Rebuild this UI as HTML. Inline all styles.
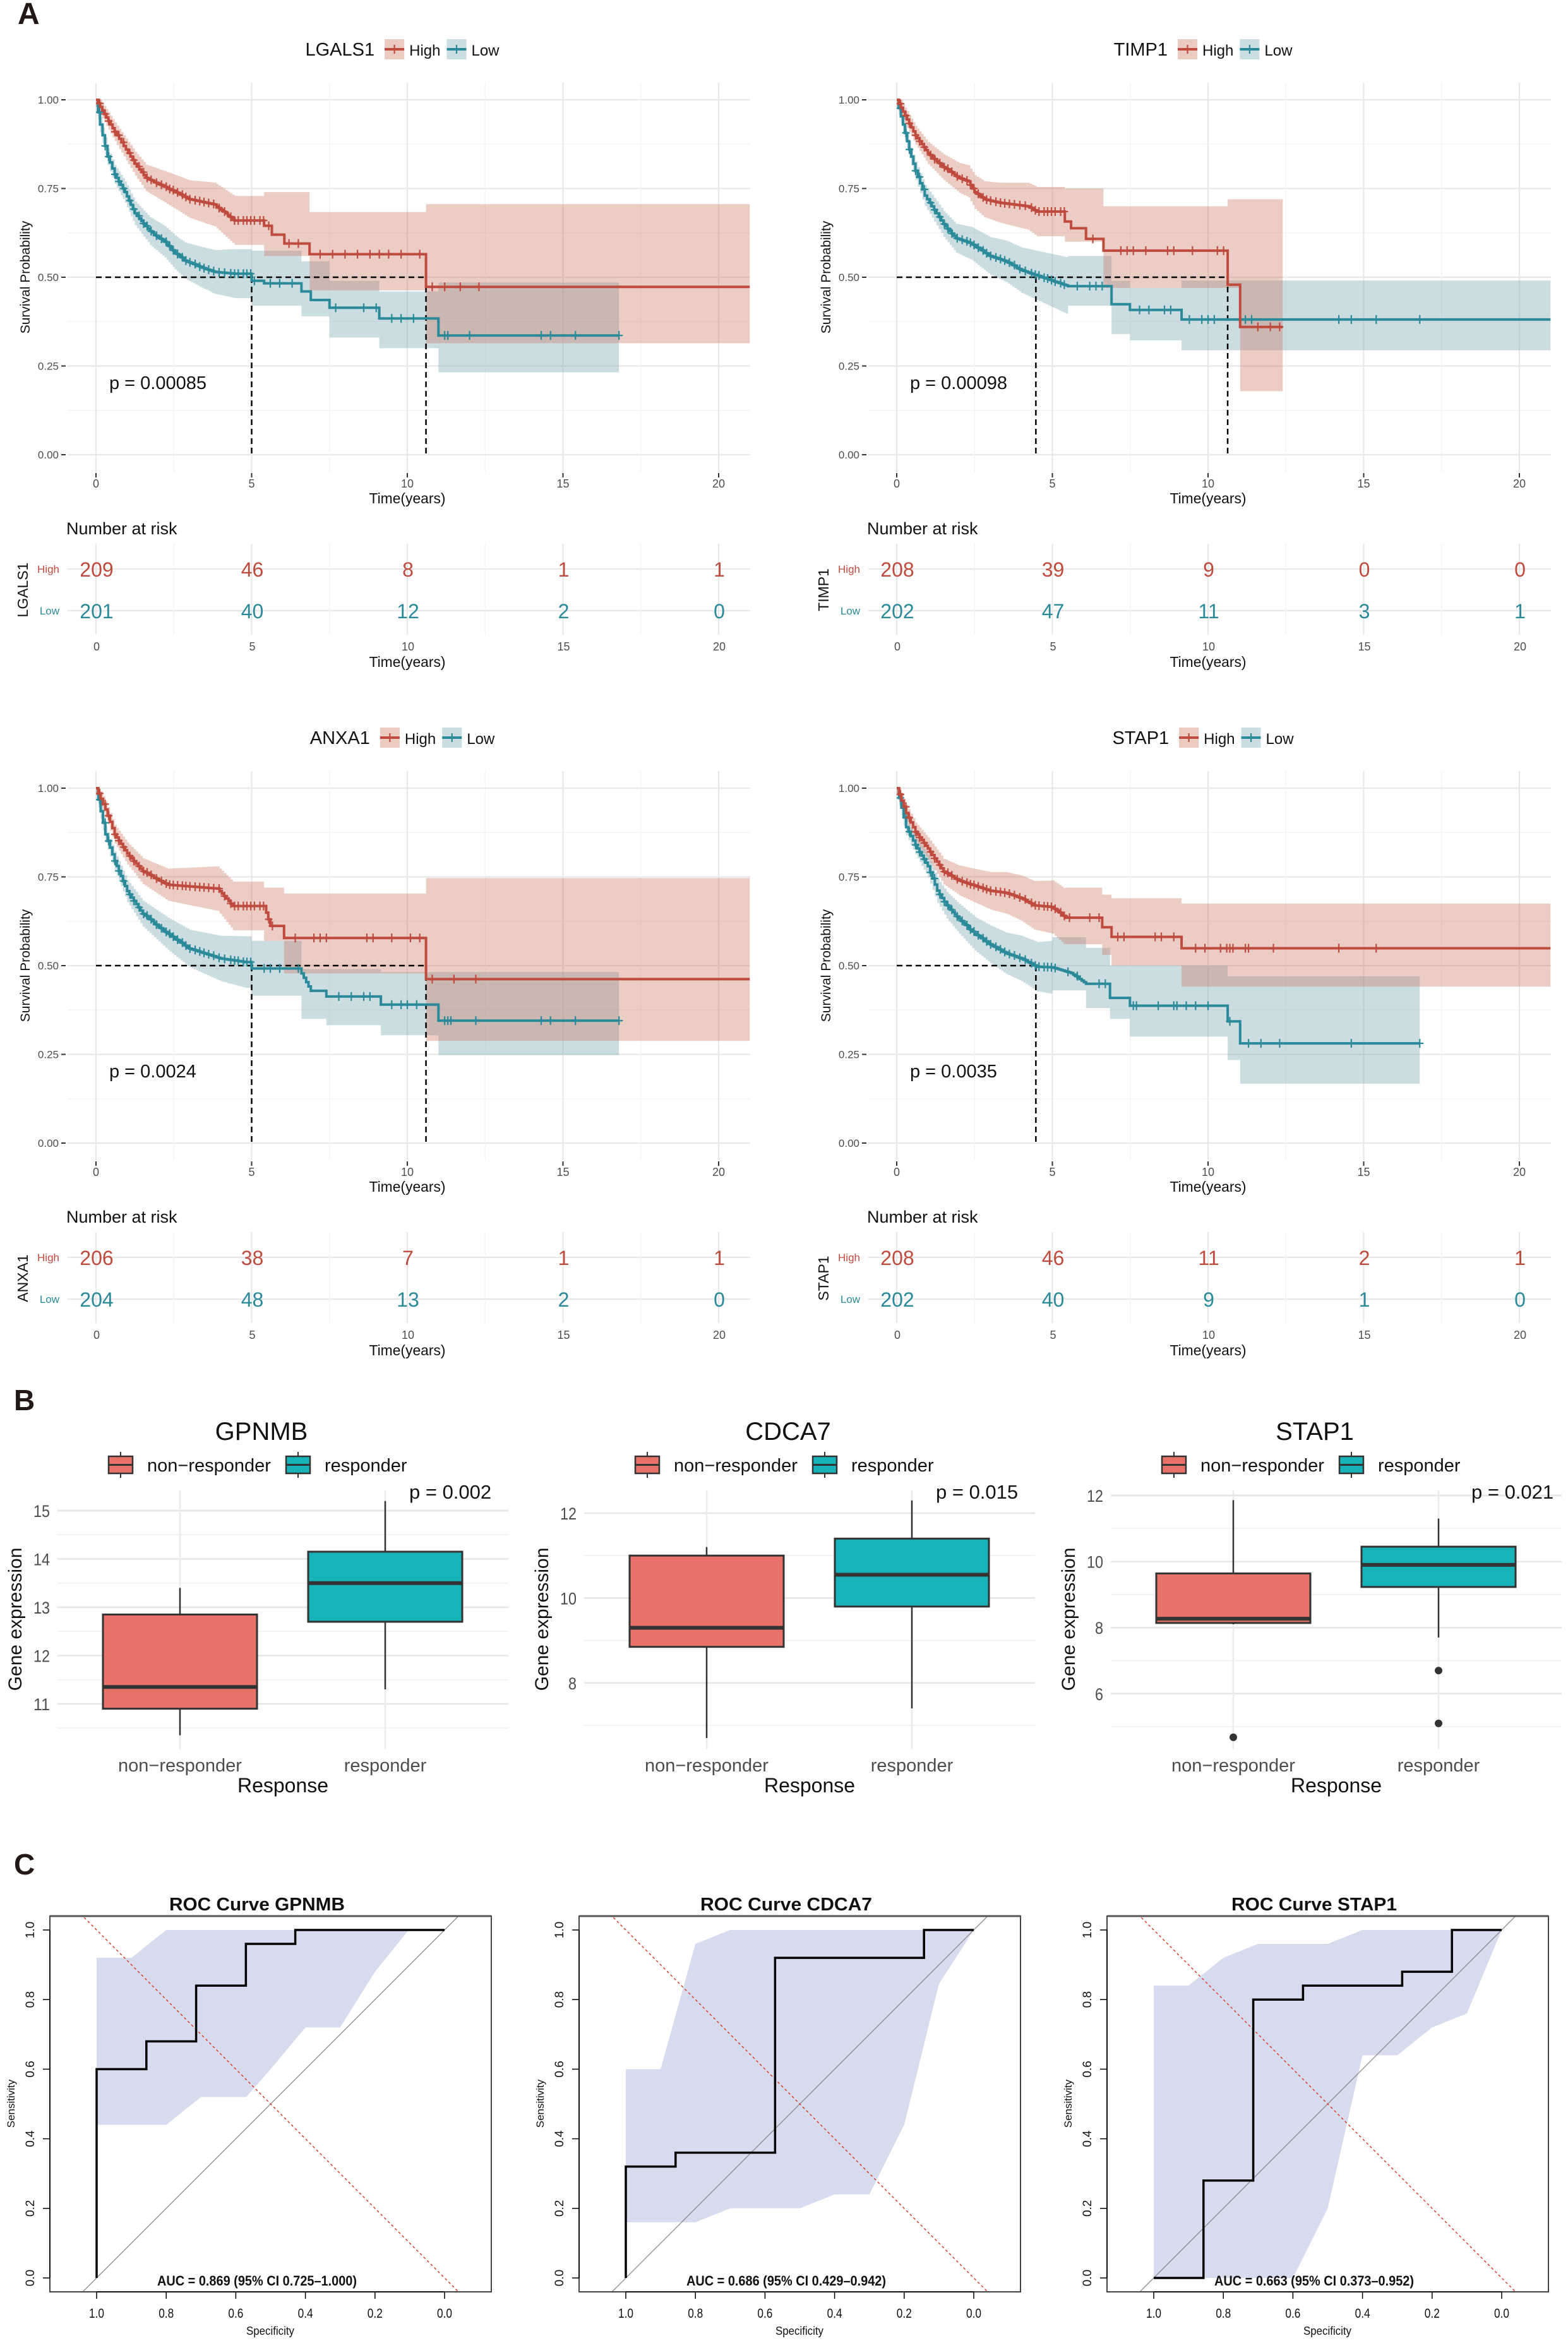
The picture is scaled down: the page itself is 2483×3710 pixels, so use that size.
<!DOCTYPE html>
<html><head><meta charset="utf-8"><style>body{margin:0;background:#fff}svg{display:block;font-family:"Liberation Sans",Arial,sans-serif}</style></head>
<body>
<svg id="c" xmlns="http://www.w3.org/2000/svg" width="2483" height="3710" viewBox="0 0 2483 3710">
<rect width="2483" height="3710" fill="#fff"/>
<defs id="defs"></defs>
<text x="28" y="38" font-size="48" font-weight="bold" fill="#231815">A</text>
<text x="22" y="2233" font-size="46" font-weight="bold" fill="#231815">B</text>
<text x="22" y="2968" font-size="46" font-weight="bold" fill="#231815">C</text>
</svg>
<script>
const NS='http://www.w3.org/2000/svg';
const S=document.getElementById('c');
const D=document.getElementById('defs');
function E(tag,a,txt,p){const e=document.createElementNS(NS,tag);for(const k in a)e.setAttribute(k,a[k]);if(txt!=null)e.textContent=txt;(p||S).appendChild(e);return e;}
const RED='#BE4B3E',TEAL='#2B8A99',GR='#4D4D4D';
function steps(kn,end){const st=[];let pt=kn[0][0],ps=kn[0][1];
 for(let i=1;i<kn.length;i++){const t=kn[i][0],s=kn[i][1],sm=kn[i][2];
  if(sm){const n=Math.max(1,Math.round((t-pt)/0.07));for(let j=1;j<=n;j++){st.push([pt+(t-pt)*(j-1)/n,pt+(t-pt)*j/n,ps+(s-ps)*(j-1)/n]);}}
  else st.push([pt,t,ps]);pt=t;ps=s;}
 st.push([pt,end,ps]);return st;}
function sAt(st,t){for(const g of st){if(t>=g[0]&&t<=g[1])return g[2];}return st[st.length-1][2];}
function km(ox,oy,c){
 const X=t=>ox+152+49.3*t,Y=s=>oy+720-562*s;
 // grid
 for(let i=0;i<=8;i++){const s=i/8;const maj=i%2==0;E('line',{x1:ox+107,x2:ox+1188,y1:Y(s),y2:Y(s),stroke:maj?'#e8e8e8':'#f3f3f3','stroke-width':maj?2.2:1.3});}
 for(let i=0;i<=8;i++){const t=i*2.5;const maj=i%2==0;E('line',{x1:X(t),x2:X(t),y1:oy+131,y2:oy+747,stroke:maj?'#e8e8e8':'#f3f3f3','stroke-width':maj?2.2:1.3});}
 // axis ticks
 ['0.00','0.25','0.50','0.75','1.00'].forEach((l,i)=>{const y=Y(i/4);E('line',{x1:ox+97,x2:ox+104,y1:y,y2:y,stroke:'#333','stroke-width':2});E('text',{x:ox+93,y:y+6,'font-size':17,'text-anchor':'end',fill:GR},l);});
 [0,5,10,15,20].forEach(t=>{E('line',{x1:X(t),x2:X(t),y1:oy+749,y2:oy+756,stroke:'#333','stroke-width':2});E('text',{x:X(t),y:oy+772,'font-size':18,'text-anchor':'middle',fill:GR},t);});
 E('text',{x:X(10),y:oy+797,'font-size':23,'text-anchor':'middle',fill:'#111',textLength:121,lengthAdjust:'spacingAndGlyphs'},'Time(years)');
 E('text',{x:0,y:0,'font-size':21,'text-anchor':'middle',fill:'#111',transform:`translate(${ox+47},${oy+439}) rotate(-90)`},'Survival Probability');
 // curves
 const cur=[[c.low,TEAL,'#7FAAB6',0.40],[c.high,RED,'#C8705A',0.35]];
 const built=cur.map(q=>steps(q[0].k,q[0].end));
 cur.forEach((q,i)=>{const st=built[i],ov=q[0].ov;let up=[],lo=[];
  st.forEach(g=>{let u,l;let o=null;for(const v of ov){if(v[0]<=g[0]+1e-6)o=v;}
   if(o){u=o[1];l=o[2];}else{const w=Math.min(.02+.011*g[0],.08);u=Math.min(1,g[2]+w);l=g[2]-w;}
   up.push([X(g[0]),Y(u)],[X(g[1]),Y(u)]);lo.push([X(g[0]),Y(l)],[X(g[1]),Y(l)]);});
  const pts=up.concat(lo.reverse()).map(p=>p[0].toFixed(1)+','+p[1].toFixed(1)).join(' ');
  E('polygon',{points:pts,fill:q[2],'fill-opacity':q[3]});});
 // dashed
 const md=c.med;E('line',{x1:X(0),x2:X(Math.max(...md)),y1:Y(.5),y2:Y(.5),stroke:'#000','stroke-width':2.5,'stroke-dasharray':'9,6'});
 md.forEach(t=>E('line',{x1:X(t),x2:X(t),y1:Y(.5),y2:Y(0),stroke:'#000','stroke-width':2.5,'stroke-dasharray':'9,6'}));
 cur.forEach((q,i)=>{const st=built[i];let d=`M${X(st[0][0])},${Y(st[0][2])}`;
  st.forEach((g,j)=>{d+=` H${X(g[1]).toFixed(1)}`;if(j<st.length-1)d+=` V${Y(st[j+1][2]).toFixed(1)}`;});
  E('path',{d:d,fill:'none',stroke:q[1],'stroke-width':4});
  const ct=[];for(let t=0.12;t<q[0].ce;t+=0.11+((t*7.3)%0.09))ct.push(t);q[0].c.forEach(t=>ct.push(t));
  ct.forEach(t=>{const y=Y(sAt(st,t));E('line',{x1:X(t),x2:X(t),y1:y-7,y2:y+7,stroke:q[1],'stroke-width':2.2});E('line',{x1:X(t)-6,x2:X(t)+6,y1:y,y2:y,stroke:q[1],'stroke-width':2.2});});});
 E('text',{x:ox+173,y:oy+616,'font-size':29,fill:'#111'},'p = '+c.p);
 // title legend
 const g=E('g',{});const tt=E('text',{x:0,y:oy+88,'font-size':29,fill:'#111'},c.name,g);
 const w=tt.getComputedTextLength();let x=w+16;
 const key=(col,fc)=>{E('rect',{x:x,y:oy+62,width:31,height:32,fill:fc},null,g);E('line',{x1:x,x2:x+31,y1:oy+78,y2:oy+78,stroke:col,'stroke-width':4},null,g);E('line',{x1:x+15.5,x2:x+15.5,y1:oy+71,y2:oy+85,stroke:col,'stroke-width':2.2},null,g);x+=39;};
 key(RED,'#EBCAC2');const h=E('text',{x:x,y:oy+88,'font-size':24,fill:'#111'},'High',g);x+=h.getComputedTextLength()+10;
 key(TEAL,'#C9DDE2');const l=E('text',{x:x,y:oy+88,'font-size':24,fill:'#111'},'Low',g);x+=l.getComputedTextLength();
 g.setAttribute('transform',`translate(${ox+637-x/2},0)`);
 // risk table
 E('text',{x:ox+105,y:oy+846,'font-size':27,fill:'#111'},'Number at risk');
 [901,967].forEach(y=>E('line',{x1:ox+107,x2:ox+1188,y1:oy+y,y2:oy+y,stroke:'#e8e8e8','stroke-width':2.2}));
 for(let i=0;i<=8;i++){const t=i*2.5;E('line',{x1:X(t),x2:X(t),y1:oy+861,y2:oy+1005,stroke:i%2?'#f3f3f3':'#e8e8e8','stroke-width':i%2?1.3:2.2});}
 E('text',{x:ox+94,y:oy+907,'font-size':17,'text-anchor':'end',fill:RED},'High');
 E('text',{x:ox+94,y:oy+973,'font-size':17,'text-anchor':'end',fill:TEAL},'Low');
 E('text',{x:0,y:0,'font-size':23,'text-anchor':'middle',fill:'#111',transform:`translate(${ox+44},${oy+934}) rotate(-90)`},c.name);
 [0,5,10,15,20].forEach((t,i)=>{E('text',{x:X(t)+1,y:oy+913,'font-size':32,'text-anchor':'middle',fill:RED},c.rh[i]);E('text',{x:X(t)+1,y:oy+979,'font-size':32,'text-anchor':'middle',fill:TEAL},c.rl[i]);
  E('text',{x:X(t)+1,y:oy+1030,'font-size':18,'text-anchor':'middle',fill:GR},t);});
 E('text',{x:X(10),y:oy+1056,'font-size':23,'text-anchor':'middle',fill:'#111',textLength:121,lengthAdjust:'spacingAndGlyphs'},'Time(years)');
}
km(0,0,{name:'LGALS1',p:'0.00085',med:[5.0,10.6],rh:[209,46,8,1,1],rl:[201,40,12,2,0],
 high:{k:[[0,1],[0.6,.91,1],[1.25,.82,1],[1.6,.78,1],[2.2,.755,1],[3,.72,1],[3.8,.705,1],[4.45,.66,1],[5.4,.645],[5.65,.62],[6.05,.595],[6.86,.565],[10.6,.473]],end:21,
  ov:[[5.4,.74,.56],[6.86,.684,.463],[10.6,.706,.314]],ce:5.6,c:[6.2,6.5,7.2,7.6,8,8.4,8.8,9.1,9.4,9.8,10.4,10.8,11.2,11.7,12.3]},
 low:{k:[[0,1],[0.13,.93,1],[0.37,.84,1],[0.6,.79,1],[0.93,.74,1],[1.25,.68,1],[1.73,.63,1],[2.2,.60,1],[2.53,.57,1],[2.85,.547,1],[3.33,.53,1],[3.8,.515,1],[4.45,.51,1],[5.0,.49],[5.4,.483],[6.6,.46],[6.9,.436],[7.5,.414],[9.1,.384],[11.0,.336]],end:16.8,
  ov:[[5.0,.575,.42],[6.6,.545,.39],[7.5,.49,.33],[9.1,.46,.30],[11.0,.485,.232]],ce:5.2,c:[5.6,5.9,6.3,7.7,8.6,9,9.5,9.8,10.2,11.2,11.3,12,14.3,14.6,15.4,16.8]}});
km(1268,0,{name:'TIMP1',p:'0.00098',med:[4.47,10.63],rh:[208,39,9,0,0],rl:[202,47,11,3,1],
 high:{k:[[0,1],[0.6,.9,1],[1,.85,1],[1.5,.81,1],[2,.78,1],[2.3,.77,1],[2.5,.74,1],[2.8,.72,1],[3.3,.71,1],[4.2,.70,1],[4.5,.685,1],[5.4,.657],[5.6,.638],[6.08,.608],[6.64,.575],[10.63,.479],[11.03,.36]],end:12.4,
  ov:[[5.4,.75,.60],[6.64,.70,.47],[10.63,.72,.47],[11.03,.72,.179]],ce:5.5,c:[6.3,7.2,7.4,7.6,8,8.7,8.9,9.5,10.3,10.5,11.6,12.0,12.3]},
 low:{k:[[0,1],[0.2,.93,1],[0.4,.86,1],[0.6,.8,1],[0.9,.73,1],[1.2,.69,1],[1.5,.65,1],[1.9,.61,1],[2.4,.595,1],[3,.56,1],[3.5,.545,1],[4,.52,1],[4.5,.505,1],[5,.49,1],[5.5,.475,1],[6.9,.424],[7.49,.408],[9.15,.381]],end:21,
  ov:[[5.5,.56,.42],[6.9,.49,.34],[7.49,.47,.322],[9.15,.491,.294]],ce:5.5,c:[5.8,6.2,6.4,6.6,7.8,8.1,8.6,8.8,9.4,9.8,10,10.2,11.2,11.4,14.2,14.6,15.4,16.8]}});
km(0,1090,{name:'ANXA1',p:'0.0024',med:[5.0,10.6],rh:[206,38,7,1,1],rl:[204,48,13,2,0],
 high:{k:[[0,1],[0.3,.94,1],[0.6,.87,1],[1,.816,1],[1.5,.766,1],[2.3,.728,1],[3.9,.717,1],[4.4,.668,1],[5.4,.668],[5.6,.612,1],[6.04,.578],[10.6,.462]],end:21,
  ov:[[5.4,.72,.57],[6.04,.703,.478],[10.6,.747,.288]],ce:5.8,c:[6.4,7.0,7.2,7.4,8.7,8.9,9.5,10.1,10.4,10.8,11.5,12.2]},
 low:{k:[[0,1],[0.3,.87,1],[0.6,.795,1],[1,.71,1],[1.5,.646,1],[2.3,.59,1],[3,.548,1],[4,.52,1],[4.8,.51,1],[5.0,.492],[6.6,.478],[6.9,.429,1],[7.4,.413],[9.15,.39],[10.6,.39],[11.0,.345]],end:16.8,
  ov:[[5.0,.57,.415],[6.6,.49,.35],[7.4,.49,.332],[9.15,.482,.304],[11.0,.482,.248]],ce:5.0,c:[5.4,5.6,5.9,6.5,7.8,8.2,8.6,8.8,9.5,9.8,10,10.3,11.2,11.3,11.4,12.2,14.3,14.6,15.4,16.8]}});
km(1268,1090,{name:'STAP1',p:'0.0035',med:[4.47],rh:[208,46,11,2,1],rl:[202,40,9,1,0],
 high:{k:[[0,1],[0.3,.93,1],[0.6,.877,1],[1,.83,1],[1.5,.765,1],[2,.74,1],[2.5,.725,1],[3,.711,1],[3.5,.705,1],[4,.69,1],[4.4,.67,1],[5,.665,1],[5.43,.635,1],[6.6,.608],[6.9,.581],[9.15,.549]],end:21,
  ov:[[5.43,.72,.56],[6.6,.70,.53],[6.9,.69,.50],[9.15,.675,.441]],ce:5.6,c:[6.2,6.5,7.1,7.3,8.3,8.5,8.9,9.6,9.9,10.4,10.6,10.7,10.8,11.2,11.3,12.1,14.2,15.4]},
 low:{k:[[0,1],[0.3,.89,1],[0.6,.84,1],[1,.78,1],[1.3,.711,1],[1.6,.67,1],[2,.632,1],[2.5,.59,1],[3,.56,1],[3.5,.535,1],[4,.52,1],[4.5,.497,1],[5,.495,1],[5.6,.479,1],[6.08,.449,1],[6.85,.409],[7.49,.387],[10.63,.343],[11.03,.281]],end:16.8,
  ov:[[5.0,.58,.43],[6.08,.55,.38],[6.85,.50,.35],[7.49,.50,.30],[10.63,.47,.234],[11.03,.47,.167]],ce:5.2,c:[5.5,5.8,6.5,6.7,7.6,7.7,8.4,8.9,9.0,9.3,9.6,10.0,10.7,11.3,11.7,12.3,14.6,16.8]}});

// Panel B
function bp(ox,c){
 const Y=v=>c.y0-(v-c.v0)*c.ppu;
 c.minor.forEach(v=>E('line',{x1:ox+91,x2:ox+805,y1:Y(v),y2:Y(v),stroke:'#f2f2f2','stroke-width':2}));
 c.major.forEach(v=>{E('line',{x1:ox+91,x2:ox+805,y1:Y(v),y2:Y(v),stroke:'#e6e6e6','stroke-width':2.5});E('text',{x:ox+79,y:Y(v)+10,'font-size':27,'text-anchor':'end',fill:GR,textLength:(''+v).length*13,lengthAdjust:'spacingAndGlyphs'},v);});
 [285,610].forEach(x=>E('line',{x1:ox+x,x2:ox+x,y1:2360,y2:2770,stroke:'#ebebeb','stroke-width':2.5}));
 const cols=['#E8726A','#18B3B8'];
 c.b.forEach((b,i)=>{const cx=ox+[285,610][i];
  E('line',{x1:cx,x2:cx,y1:Y(b[4]),y2:Y(b[3]),stroke:'#333','stroke-width':2.5});
  E('rect',{x:cx-122,y:Y(b[2]),width:244,height:Y(b[0])-Y(b[2]),fill:cols[i],stroke:'#333','stroke-width':3});
  E('line',{x1:cx-122,x2:cx+122,y1:Y(b[1]),y2:Y(b[1]),stroke:'#333','stroke-width':6});
  (b[5]||[]).forEach(o=>E('circle',{cx:cx,cy:Y(o),r:6,fill:'#333'}));});
 E('text',{x:ox+414,y:2280,'font-size':40,'text-anchor':'middle',fill:'#111'},c.t);
 [[172,'non\u2212responder',233,cols[0]],[453,'responder',514,cols[1]]].forEach(k=>{
  E('line',{x1:ox+k[0]+19,x2:ox+k[0]+19,y1:2299,y2:2340,stroke:'#333','stroke-width':2});
  E('rect',{x:ox+k[0],y:2306,width:38,height:27,fill:k[3],stroke:'#333','stroke-width':2.5});
  E('line',{x1:ox+k[0],x2:ox+k[0]+38,y1:2319.5,y2:2319.5,stroke:'#333','stroke-width':3});
  E('text',{x:ox+k[2],y:2330,'font-size':29,fill:'#111'},k[1]);});
 E('text',{x:ox+c.px,y:2373,'font-size':31,fill:'#111'},c.p);
 E('text',{x:ox+285,y:2805,'font-size':29,'text-anchor':'middle',fill:GR},'non\u2212responder');
 E('text',{x:ox+610,y:2805,'font-size':29,'text-anchor':'middle',fill:GR},'responder');
 E('text',{x:ox+448,y:2838,'font-size':32,'text-anchor':'middle',fill:'#111'},'Response');
 E('text',{x:0,y:0,'font-size':30,'text-anchor':'middle',fill:'#111',transform:`translate(${ox+34},2564) rotate(-90)`},'Gene expression');
}
bp(0,{t:'GPNMB',p:'p = 0.002',px:648,v0:15,y0:2392,ppu:76.5,major:[11,12,13,14,15],minor:[10.5,11.5,12.5,13.5,14.5],
 b:[[10.9,11.35,12.85,10.35,13.4],[12.7,13.5,14.15,11.3,15.2]]});
bp(834,{t:'CDCA7',p:'p = 0.015',px:648,v0:12,y0:2396,ppu:67.2,major:[8,10,12],minor:[7,9,11],
 b:[[8.85,9.3,11.0,6.7,11.2],[9.8,10.55,11.4,7.4,12.3]]});
bp(1668,{t:'STAP1',p:'p = 0.021',px:662,v0:12,y0:2368,ppu:52.3,major:[6,8,10,12],minor:[5,7,9,11],
 b:[[8.14,8.27,9.64,8.1,11.86,[4.68]],[9.23,9.9,10.45,7.7,11.3,[6.7,5.1]]]});

// Panel C
function roc(ox,c){
 const X=sp=>ox+153+(1-sp)*551,Y=se=>3607-se*551;
 const id='cl'+ox;const cp=E('clipPath',{id:id},null,D);E('rect',{x:ox+79,y:3034,width:699,height:595},null,cp);
 const g=E('g',{'clip-path':`url(#${id})`});
 E('polygon',{points:c.ci.map(p=>X(p[0])+','+Y(p[1])).join(' '),fill:'#D7DBEE'},null,g);
 E('line',{x1:X(1.2),y1:Y(-.2),x2:X(-.2),y2:Y(1.2),stroke:'#8a8a8a','stroke-width':1.3},null,g);
 E('line',{x1:X(1.2),y1:Y(1.2),x2:X(-.2),y2:Y(-.2),stroke:'#E0301E','stroke-width':1.4,'stroke-dasharray':'4,4'},null,g);
 E('polyline',{points:c.r.map(p=>X(p[0])+','+Y(p[1])).join(' '),fill:'none',stroke:'#000','stroke-width':3.5},null,g);
 E('rect',{x:ox+79,y:3034,width:699,height:595,fill:'none',stroke:'#444','stroke-width':2});
 E('line',{x1:ox+79,x2:ox+778,y1:3034,y2:3034,stroke:'#555','stroke-width':3});
 E('line',{x1:X(1),x2:X(0),y1:3629,y2:3629,stroke:'#000','stroke-width':1.5});
 E('line',{x1:ox+79,x2:ox+79,y1:Y(0),y2:Y(1),stroke:'#000','stroke-width':1.5});
 for(let i=0;i<=5;i++){const v=i/5;const lab=v.toFixed(1);
  E('line',{x1:X(v),x2:X(v),y1:3629,y2:3640,stroke:'#000','stroke-width':1.5});
  E('text',{x:X(v),y:3670,'font-size':21,'text-anchor':'middle',fill:'#111',textLength:24,lengthAdjust:'spacingAndGlyphs'},lab);
  E('line',{x1:ox+68,x2:ox+79,y1:Y(v),y2:Y(v),stroke:'#000','stroke-width':1.5});
  E('text',{x:0,y:0,'font-size':19,'text-anchor':'middle',fill:'#111',transform:`translate(${ox+54},${Y(v)}) rotate(-90)`},lab);}
 E('text',{x:ox+428,y:3697,'font-size':18,'text-anchor':'middle',fill:'#111',textLength:76,lengthAdjust:'spacingAndGlyphs'},'Specificity');
 E('text',{x:0,y:0,'font-size':17,'text-anchor':'middle',fill:'#111',transform:`translate(${ox+23},3331) rotate(-90)`},'Sensitivity');
 E('text',{x:ox+407,y:3025,'font-size':29,'font-weight':'bold','text-anchor':'middle',fill:'#111',textLength:c.tw,lengthAdjust:'spacingAndGlyphs'},c.t);
 E('text',{x:ox+407,y:3619,'font-size':22,'font-weight':'bold','text-anchor':'middle',fill:'#111',textLength:316,lengthAdjust:'spacingAndGlyphs'},c.a);
}
roc(0,{t:'ROC Curve GPNMB',tw:278,a:'AUC = 0.869 (95% CI 0.725\u20131.000)',
 r:[[1,0],[1,.6],[.857,.6],[.857,.68],[.714,.68],[.714,.84],[.571,.84],[.571,.96],[.429,.96],[.429,1],[0,1]],
 ci:[[1,.92],[.9,.92],[.8,1],[.103,1],[.2,.88],[.3,.72],[.4,.72],[.5,.6],[.57,.52],[.7,.52],[.8,.44],[1,.44]]});
roc(838,{t:'ROC Curve CDCA7',tw:272,a:'AUC = 0.686 (95% CI 0.429\u20130.942)',
 r:[[1,0],[1,.32],[.857,.32],[.857,.36],[.571,.36],[.571,.92],[.143,.92],[.143,1],[0,1]],
 ci:[[1,.6],[.9,.6],[.8,.96],[.7,1],[0,1],[.1,.845],[.2,.44],[.3,.24],[.4,.24],[.5,.2],[.7,.2],[.8,.16],[1,.16]]});
roc(1674,{t:'ROC Curve STAP1',tw:262,a:'AUC = 0.663 (95% CI 0.373\u20130.952)',
 r:[[1,0],[.857,0],[.857,.28],[.714,.28],[.714,.8],[.571,.8],[.571,.84],[.286,.84],[.286,.88],[.143,.88],[.143,1],[0,1]],
 ci:[[1,0],[1,.84],[.9,.84],[.8,.92],[.7,.96],[.5,.96],[.4,1],[0,1],[.1,.76],[.2,.72],[.3,.64],[.4,.64],[.5,.2],[.6,0]]});
</script>
</body></html>
